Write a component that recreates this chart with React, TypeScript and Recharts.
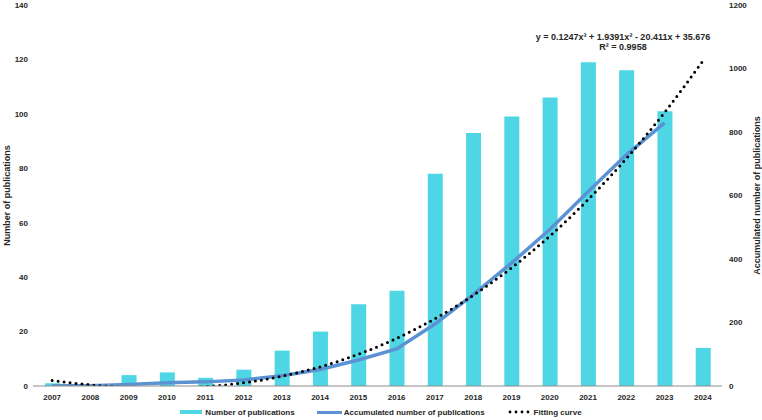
import React from 'react';
import { ComposedChart, Bar, Line, XAxis, YAxis, Legend } from 'recharts';

const years = ['2007','2008','2009','2010','2011','2012','2013','2014','2015','2016','2017','2018','2019','2020','2021','2022','2023','2024'];
const publications = [1, 0, 4, 5, 3, 6, 13, 20, 30, 35, 78, 93, 99, 106, 119, 116, 101, 14];
const accumulated: (number | null)[] = [1, 1, 5, 10, 13, 19, 32, 52, 82, 117, 195, 288, 387, 493, 612, 728, 829, null];
const fitting = [17.3, 3.6, -4.7, -7.0, -2.3, 10.0, 30.6, 60.3, 100.0, 150.2, 211.8, 285.5, 372.0, 472.2, 586.7, 716.3, 861.8, 1023.8];
const leftTicks = [0, 20, 40, 60, 80, 100, 120, 140];
const rightTicks = [0, 200, 400, 600, 800, 1000, 1200];

const data = years.map((y, i) => ({
  year: y,
  pub: publications[i],
  acc: accumulated[i],
  fit: fitting[i],
}));

const FONT = '"Liberation Sans", Arial, sans-serif';
const TXT = '#262626';
const BAR = '#4ED6E4';
const LINE = '#5B92D4';

const tickStyle = { fontSize: 8, fontWeight: 700, fill: TXT, fontFamily: FONT };

function LegendContent() {
  const item: React.CSSProperties = { display: 'flex', alignItems: 'center', marginRight: 22 };
  return (
    <div style={{ height: 16, display: 'flex', justifyContent: 'center', alignItems: 'center', fontFamily: FONT, fontSize: 8, fontWeight: 700, color: TXT }}>
      <div style={item}>
        <span style={{ display: 'inline-block', width: 22, height: 4, background: BAR, marginRight: 3 }} />
        <span>Number of publications</span>
      </div>
      <div style={item}>
        <span style={{ display: 'inline-block', width: 25, height: 3, background: LINE, marginRight: 2 }} />
        <span>Accumulated number of publications</span>
      </div>
      <div style={{ ...item, marginRight: 0 }}>
        <svg width={24} height={6} style={{ marginRight: 3 }}>
          {[3, 9, 15, 21].map((cx) => <circle key={cx} cx={cx} cy={3} r={1.4} fill="#000" />)}
        </svg>
        <span>Fitting curve</span>
      </div>
    </div>
  );
}

export default function App() {
  return (
    <div style={{ position: 'absolute', left: 0, top: 0, width: 762, height: 420, background: '#fff' }}>
      <ComposedChart width={762} height={420} data={data} margin={{ top: 5, right: 0, bottom: 0, left: 0 }} barSize={15}>
        <XAxis dataKey="year" tick={tickStyle} tickLine={false} axisLine={{ stroke: '#8c8c8c', strokeWidth: 1 }} height={18} interval={0} tickMargin={2} />
        <YAxis yAxisId="left" orientation="left" width={33} domain={[0, 140]} ticks={leftTicks} tick={tickStyle} tickLine={false} axisLine={false} tickSize={3} tickMargin={2}
          label={{ value: 'Number of publications', angle: -90, position: 'center', dx: -10, style: { fontSize: 9, fontWeight: 700, fill: TXT, fontFamily: FONT } }} />
        <YAxis yAxisId="right" orientation="right" width={40} domain={[0, 1200]} ticks={rightTicks} tick={tickStyle} tickLine={false} axisLine={false} tickSize={5} tickMargin={2} allowDataOverflow
          label={{ value: 'Accumulated number of publications', angle: -90, position: 'center', dx: 15, style: { fontSize: 9, fontWeight: 700, fill: TXT, fontFamily: FONT } }} />
        <Legend verticalAlign="bottom" content={<LegendContent />} />
        <Bar yAxisId="left" dataKey="pub" fill={BAR} isAnimationActive={false} />
        <Line yAxisId="right" dataKey="acc" stroke={LINE} strokeWidth={3.5} dot={false} type="linear" isAnimationActive={false} connectNulls={false} />
        <Line yAxisId="right" dataKey="fit" stroke="#000" strokeWidth={3} strokeDasharray="0 6" strokeLinecap="round" dot={false} type="monotone" isAnimationActive={false} />
      </ComposedChart>
      <div style={{ position: 'absolute', left: 523, top: 32, width: 200, textAlign: 'center', fontFamily: FONT, fontSize: 9, fontWeight: 700, lineHeight: '10px', color: TXT }}>
        <div>y = 0.1247x³ + 1.9391x² - 20.411x + 35.676</div>
        <div>R² = 0.9958</div>
      </div>
    </div>
  );
}
